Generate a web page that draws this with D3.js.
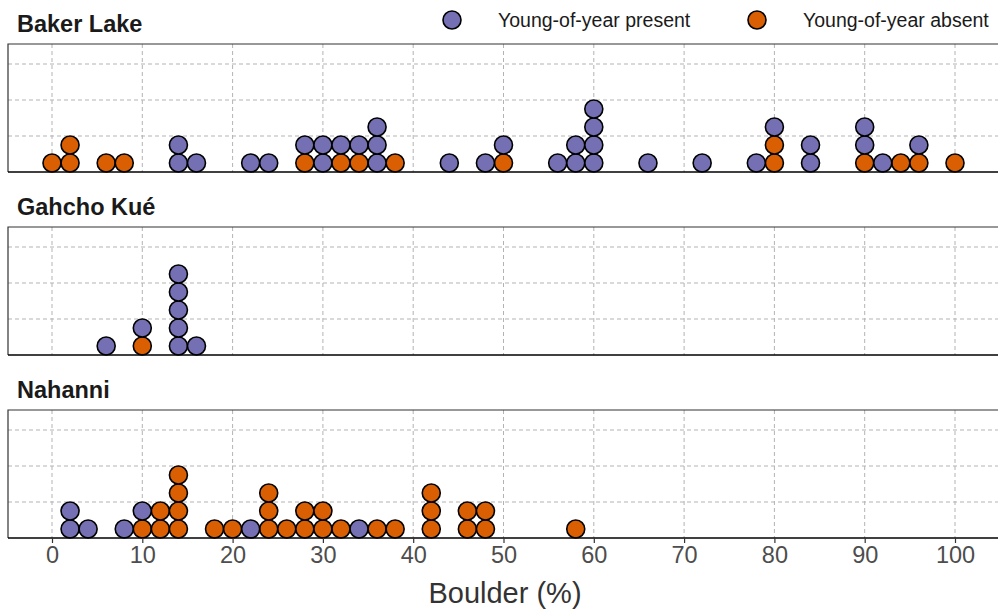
<!DOCTYPE html>
<html>
<meta charset="utf-8">
<style>
  body { margin: 0; background: #fff; }
  text { font-family: "Liberation Sans", Arial, sans-serif; }
  .grid line { stroke: #b3b3b3; stroke-dasharray: 4,3; stroke-width: 1; }
  .dot { stroke: #000; stroke-width: 1.6; }
</style>
<body>
<script src="https://d3js.org/d3.v7.min.js"></script>
<script>
  // boulder (%) values, one entry per site, binned at 2 %
  const lakes = ["Baker Lake", "Gahcho Kué", "Nahanni"];
  const groups = ["Young-of-year absent", "Young-of-year present"];
  const legendOrder = ["Young-of-year present", "Young-of-year absent"];
  const colors = ["#d95f02", "#7570b3"];

  const bakerAbsent = [0, 2, 2, 6, 8, 28, 32, 34, 38, 50, 80, 80, 90, 94, 96, 100];
  const bakerPresent = [14, 14, 16, 22, 24, 28, 30, 30, 32, 34, 36, 36, 36, 44, 48, 50, 56, 58, 58,
    60, 60, 60, 60, 66, 72, 78, 80, 84, 84, 90, 90, 92, 96];
  const gahchoAbsent = [10];
  const gahchoPresent = [6, 10, 14, 14, 14, 14, 14, 16];
  const nahanniAbsent = [10, 12, 12, 14, 14, 14, 14, 18, 20, 24, 24, 24, 26, 28, 28, 30, 30, 32, 36,
    38, 42, 42, 42, 46, 46, 48, 48, 58];
  const nahanniPresent = [2, 2, 4, 8, 10, 22, 34];

  const xTicks = [0, 10, 20, 30, 40, 50, 60, 70, 80, 90, 100];
  const yTicks = [0.25, 0.5, 0.75];

  const sets = [
    [bakerAbsent, bakerPresent],
    [gahchoAbsent, gahchoPresent],
    [nahanniAbsent, nahanniPresent]
  ];

  const width = 999, height = 613;
  const left = 8, right = 998;
  const panelTops = [44, 227, 410];
  const panelH = 128;
  const r = 9;

  const svg = d3.select("body").append("svg")
    .attr("width", width)
    .attr("height", height);

  const x = d3.scaleLinear().domain([0, 100]).range([52, 955]);

  lakes.forEach((lake, i) => {
    const top = panelTops[i], bottom = top + panelH;
    const y = d3.scaleLinear().domain([0, 1]).range([bottom, bottom - 144]);
    const g = svg.append("g");

    g.append("text")
      .attr("x", 17).attr("y", top - 12)
      .attr("font-size", 23.5).attr("font-weight", "bold")
      .attr("fill", "#1a1a1a")
      .text(lake);

    const grid = g.append("g").attr("class", "grid");
    grid.selectAll(".v").data(xTicks).join("line")
      .attr("x1", d => x(d)).attr("x2", d => x(d))
      .attr("y1", top).attr("y2", bottom);
    grid.selectAll(".h").data(yTicks).join("line")
      .attr("x1", left).attr("x2", right)
      .attr("y1", d => y(d)).attr("y2", d => y(d));

    // panel frame
    g.append("path")
      .attr("d", `M${left},${bottom}V${top}H${right}`)
      .attr("fill", "none").attr("stroke", "#333").attr("stroke-width", 1.2);

    // stack dots: absent first, then present on top
    const counts = {};
    const dots = [];
    sets[i].forEach((vals, gi) => {
      vals.forEach(v => {
        const k = counts[v] || 0;
        counts[v] = k + 1;
        dots.push({ v: v, k: k, g: gi });
      });
    });
    g.selectAll(".dot").data(dots).join("circle")
      .attr("class", "dot")
      .attr("cx", d => x(d.v))
      .attr("cy", d => y(0) - r - d.k * 2 * r)
      .attr("r", r)
      .attr("fill", d => colors[d.g]);

    g.append("line")
      .attr("x1", left).attr("x2", right)
      .attr("y1", bottom).attr("y2", bottom)
      .attr("stroke", "#000").attr("stroke-width", 1.6);

    if (i === 2) {
      const axis = d3.axisBottom(x).tickValues(xTicks).tickSize(5).tickPadding(3);
      const ax = svg.append("g")
        .attr("transform", `translate(0,${bottom})`)
        .call(axis);
      ax.select(".domain").remove();
      ax.selectAll(".tick line").attr("stroke", "#333").attr("stroke-width", 1.2);
      ax.selectAll(".tick text")
        .attr("font-size", 23.5).attr("fill", "#4d4d4d")
        .attr("font-family", "Liberation Sans, Arial, sans-serif");
    }
  });

  svg.append("text")
    .attr("x", 505).attr("y", 603)
    .attr("text-anchor", "middle")
    .attr("font-size", 29).attr("fill", "#333")
    .text("Boulder (%)");

  // legend
  const legX = [452, 757];
  legendOrder.forEach((name, i) => {
    const lg = svg.append("g");
    lg.append("circle")
      .attr("class", "dot")
      .attr("cx", legX[i]).attr("cy", 20).attr("r", r)
      .attr("fill", colors[groups.indexOf(name)]);
    lg.append("text")
      .attr("x", legX[i] + 46).attr("y", 27)
      .attr("font-size", 19.5).attr("fill", "#1a1a1a")
      .text(name);
  });
</script>
</body>
</html>
